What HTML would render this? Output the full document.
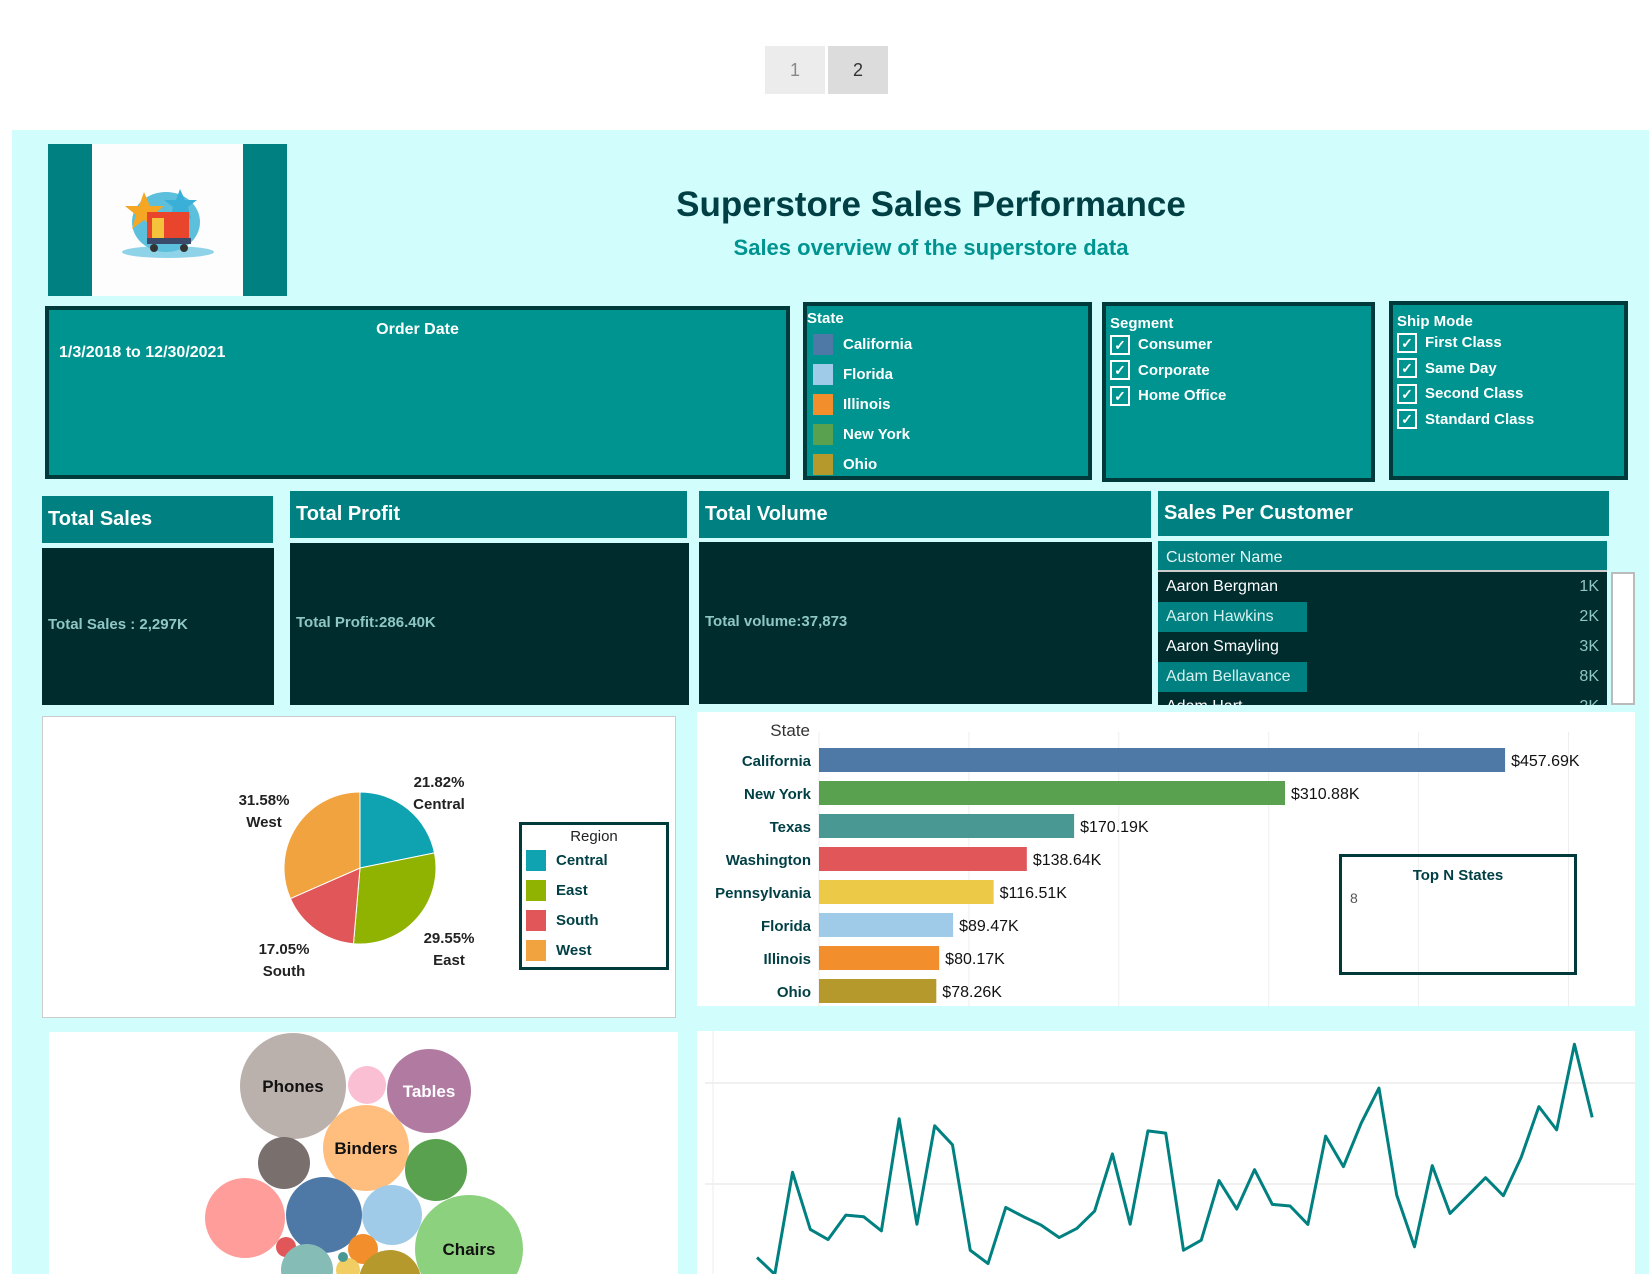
<!DOCTYPE html>
<html><head><meta charset="utf-8">
<style>
*{box-sizing:border-box;margin:0;padding:0}
body{width:1649px;height:1274px;overflow:hidden;background:#fff;position:relative;font-family:"Liberation Sans Narrow","Liberation Sans",sans-serif}
.a{position:absolute}
.pg{position:absolute;top:46px;width:60px;height:48px;background:#ececec;color:#888;font-size:18px;text-align:center;line-height:48px;font-family:"Liberation Sans",sans-serif}
.flt{position:absolute;background:#009490;border:4px solid #003a3a;color:#fff;font-weight:bold}
.hdr{position:absolute;background:#008080;color:#fff;font-weight:bold;font-size:20px;padding-left:6px;display:flex;align-items:center}
.dk{position:absolute;background:#002c2e;color:#8fc8c2;font-size:15px;font-weight:bold}
.panel{position:absolute;background:#fff}
.chk{display:inline-block;width:20px;height:20px;border:2px solid #fff;margin-right:8px;text-align:center;font-size:14px;line-height:17px;vertical-align:middle}
.li{height:25.5px;font-size:15px;display:flex;align-items:center}
.sw{display:inline-block;width:20px;height:21px;margin:0 10px 0 6px}
</style></head><body>
<div class="pg" style="left:765px">1</div>
<div class="pg" style="left:828px;background:#dcdcdc;color:#333">2</div>

<div class="a" style="left:12px;top:130px;width:1637px;height:1144px;background:#d2fdfd"></div>

<div class="a" style="left:48px;top:144px;width:239px;height:152px;background:#008080">
  <div class="a" style="left:44px;top:0;width:151px;height:152px;background:#fdfdfd">
    <svg width="151" height="152" viewBox="0 0 151 152">
      <ellipse cx="76" cy="108" rx="46" ry="6" fill="#8fd3e8"/>
      <ellipse cx="74" cy="78" rx="34" ry="30" fill="#5cc0dc"/>
      <polygon points="52,48 58,62 72,62 61,71 65,85 52,76 40,85 44,71 33,62 47,62" fill="#f5a623"/>
      <polygon points="88,45 93,56 105,56 96,63 99,75 88,68 78,75 81,63 72,56 84,56" fill="#3ab0d8"/>
      <rect x="55" y="68" width="42" height="26" fill="#e8452c"/>
      <rect x="60" y="74" width="12" height="20" fill="#f5c23c"/>
      <rect x="55" y="94" width="44" height="6" fill="#3a4a6a"/>
      <circle cx="62" cy="104" r="4" fill="#333"/><circle cx="92" cy="104" r="4" fill="#333"/>
    </svg>
  </div>
</div>
<div class="a" style="left:531px;top:185px;width:800px;text-align:center;color:#003f44;font-size:35px;font-weight:bold">Superstore Sales Performance</div>
<div class="a" style="left:531px;top:235px;width:800px;text-align:center;color:#009490;font-size:22px;font-weight:bold">Sales overview of the superstore data</div>

<div class="flt" style="left:45px;top:306px;width:745px;height:173px">
  <div class="a" style="left:0;width:737px;top:11px;text-align:center;font-size:16px">Order Date</div>
  <div class="a" style="left:10px;top:34px;font-size:16px">1/3/2018 to 12/30/2021</div>
</div>

<div class="flt" style="left:803px;top:302px;width:289px;height:178px">
  <div style="font-size:15px;margin-top:4px">State</div>
  <div class="li" style="margin-top:5px"><span class="sw" style="background:#4e79a7"></span>California</div>
  <div class="li" style="margin-top:4.5px"><span class="sw" style="background:#a0cbe8"></span>Florida</div>
  <div class="li" style="margin-top:4.5px"><span class="sw" style="background:#f28e2b"></span>Illinois</div>
  <div class="li" style="margin-top:4.5px"><span class="sw" style="background:#59a14f"></span>New York</div>
  <div class="li" style="margin-top:4.5px"><span class="sw" style="background:#b6992d"></span>Ohio</div>
</div>

<div class="flt" style="left:1102px;top:302px;width:273px;height:180px;padding:9px 0 0 4px">
  <div style="font-size:15px">Segment</div>
  <div class="li"><span class="chk">✓</span>Consumer</div>
  <div class="li"><span class="chk">✓</span>Corporate</div>
  <div class="li"><span class="chk">✓</span>Home Office</div>
</div>

<div class="flt" style="left:1389px;top:301px;width:239px;height:179px;padding:8px 0 0 4px">
  <div style="font-size:15px">Ship Mode</div>
  <div class="li"><span class="chk">✓</span>First Class</div>
  <div class="li"><span class="chk">✓</span>Same Day</div>
  <div class="li"><span class="chk">✓</span>Second Class</div>
  <div class="li"><span class="chk">✓</span>Standard Class</div>
</div>

<div class="hdr" style="left:42px;top:496px;width:231px;height:47px">Total Sales</div>
<div class="dk" style="left:42px;top:548px;width:232px;height:157px"><div class="a" style="left:6px;top:68px">Total Sales : 2,297K</div></div>
<div class="hdr" style="left:290px;top:491px;width:397px;height:47px">Total Profit</div>
<div class="dk" style="left:290px;top:543px;width:399px;height:162px"><div class="a" style="left:6px;top:71px">Total Profit:286.40K</div></div>
<div class="hdr" style="left:699px;top:491px;width:452px;height:47px">Total Volume</div>
<div class="dk" style="left:699px;top:542px;width:453px;height:162px"><div class="a" style="left:6px;top:71px">Total volume:37,873</div></div>
<div class="hdr" style="left:1158px;top:491px;width:451px;height:45px">Sales Per Customer</div>

<div class="a" style="left:1158px;top:541px;width:449px;height:164px;background:#002c2e;overflow:hidden;color:#fff;font-size:16px">
  <div style="height:31px;background:#008080;border-bottom:2px solid #ccc;padding-left:8px;line-height:34px;color:#e6f6f6">Customer Name</div>
  <div style="position:relative;height:30px"><span class="a" style="left:8px;top:6px">Aaron Bergman</span><span class="a" style="right:8px;top:6px;color:#8fc8c2">1K</span></div>
  <div style="position:relative;height:30px"><span class="a" style="left:0;top:0;width:149px;height:30px;background:#008080"></span><span class="a" style="left:8px;top:6px;color:#d6f0ef">Aaron Hawkins</span><span class="a" style="right:8px;top:6px;color:#8fc8c2">2K</span></div>
  <div style="position:relative;height:30px"><span class="a" style="left:8px;top:6px">Aaron Smayling</span><span class="a" style="right:8px;top:6px;color:#8fc8c2">3K</span></div>
  <div style="position:relative;height:30px"><span class="a" style="left:0;top:0;width:149px;height:30px;background:#008080"></span><span class="a" style="left:8px;top:6px;color:#d6f0ef">Adam Bellavance</span><span class="a" style="right:8px;top:6px;color:#8fc8c2">8K</span></div>
  <div style="position:relative;height:30px"><span class="a" style="left:8px;top:6px">Adam Hart</span><span class="a" style="right:8px;top:6px;color:#8fc8c2">2K</span></div>
</div>
<div class="a" style="left:1611px;top:572px;width:24px;height:133px;background:#fff;border:2px solid #bbb"></div>

<!-- Pie -->
<div class="panel" style="left:42px;top:716px;width:634px;height:302px;border:1px solid #ccc">
  <svg id="pie" class="a" style="left:0;top:0" width="634" height="302"></svg>
  <div class="a" style="left:476px;top:105px;width:150px;height:148px;border:3px solid #003a3a;font-size:15px;font-weight:bold;color:#003f44">
    <div style="text-align:center;margin-top:3px;font-weight:normal;color:#222">Region</div>
    <div class="li" style="height:30px"><span class="sw" style="background:#0fa3b1;margin-left:4px"></span>Central</div>
    <div class="li" style="height:30px"><span class="sw" style="background:#8fb300;margin-left:4px"></span>East</div>
    <div class="li" style="height:30px"><span class="sw" style="background:#e15759;margin-left:4px"></span>South</div>
    <div class="li" style="height:30px"><span class="sw" style="background:#f1a340;margin-left:4px"></span>West</div>
  </div>
</div>

<!-- Bar -->
<div class="panel" style="left:697px;top:712px;width:938px;height:294px">
  <svg id="bar" class="a" style="left:0;top:0" width="938" height="294"></svg>
  <div class="a" style="left:642px;top:142px;width:238px;height:121px;border:3px solid #003a3a;font-family:'Liberation Sans',sans-serif">
    <div style="text-align:center;font-weight:bold;font-size:15px;color:#003f44;margin-top:10px">Top N States</div>
    <div style="font-size:14px;color:#555;margin:6px 0 0 8px">8</div>
  </div>
</div>

<!-- Bubbles -->
<div class="panel" style="left:49px;top:1032px;width:629px;height:242px">
  <svg id="bub" class="a" style="left:0;top:0" width="629" height="242"></svg>
</div>

<!-- Line -->
<div class="panel" style="left:697px;top:1031px;width:938px;height:243px">
  <svg id="line" class="a" style="left:0;top:0" width="938" height="243"></svg>
</div>

<script>
const NS='http://www.w3.org/2000/svg';
function mk(p,t,at){const e=document.createElementNS(NS,t);for(const k in at)e.setAttribute(k,at[k]);p.appendChild(e);return e;}

// ---- Pie data ----
const regions=['Central','East','South','West'];
const regionShare=[21.82,29.55,17.05,31.58];
const regionColors=['#0fa3b1','#8fb300','#e15759','#f1a340'];
const pieLabelPos=[[396,70],[406,226],[241,237],[221,88]];
(function(){
  const s=document.getElementById('pie');const cx=317,cy=151,r=76;
  const tot=regionShare.reduce((a,b)=>a+b,0);let a0=0;
  regionShare.forEach((v,i)=>{
    const a1=a0+v/tot*2*Math.PI;
    const x0=cx+r*Math.sin(a0),y0=cy-r*Math.cos(a0),x1=cx+r*Math.sin(a1),y1=cy-r*Math.cos(a1);
    const p=mk(s,'path',{d:`M${cx},${cy}L${x0},${y0}A${r},${r} 0 ${a1-a0>Math.PI?1:0} 1 ${x1},${y1}Z`,fill:regionColors[i],stroke:'#fff','stroke-width':1});
    
    
    const [lx,ly]=pieLabelPos[i];
    const t=mk(s,'text',{x:lx,y:ly,'text-anchor':'middle','font-size':15,'font-weight':'bold',fill:'#222','font-family':'Liberation Sans Narrow, Liberation Sans, sans-serif'});
    
    
    mk(t,'tspan',{x:lx,dy:0}).textContent=v.toFixed(2)+'%';
    mk(t,'tspan',{x:lx,dy:22}).textContent=regions[i];
    a0=a1;
  });
})();

// ---- Bar data ----
const states=['California','New York','Texas','Washington','Pennsylvania','Florida','Illinois','Ohio'];
const stateSales=[457.69,310.88,170.19,138.64,116.51,89.47,80.17,78.26];
const stateColors=['#4e79a7','#59a14f','#499894','#e15759','#edc948','#a0cbe8','#f28e2b','#b6992d'];
const barTicks=[0,100,200,300,400,500];
(function(){
  const s=document.getElementById('bar');const x0=122,k=1.499,top=36,step=33.0,bh=24;
  const X=v=>x0+v*k;
  barTicks.forEach(t=>{const l=mk(s,'line',{x1:X(t),x2:X(t),y1:20,y2:294,stroke:'#eee','stroke-width':1});});
  const h=mk(s,'text',{x:113,y:24,'font-size':17,fill:'#333','text-anchor':'end','font-family':'Liberation Sans Narrow, Liberation Sans, sans-serif'});
  h.textContent='State';
  states.forEach((st,i)=>{
    const y=top+i*step;
    const r=mk(s,'rect',{x:X(0),y:y,width:X(stateSales[i])-X(0),height:bh,fill:stateColors[i]});
    
    
    const l=mk(s,'text',{x:X(0)-8,y:y+18,'text-anchor':'end','font-size':15,'font-weight':'bold',fill:'#003f44','font-family':'Liberation Sans Narrow, Liberation Sans, sans-serif'});
    l.textContent=st;
    const v=mk(s,'text',{x:X(stateSales[i])+6,y:y+18,'font-size':16,fill:'#111','font-family':'Liberation Sans Narrow, Liberation Sans, sans-serif'});
    v.textContent='$'+stateSales[i].toFixed(2)+'K';
  });
})();

// ---- Bubble data ----
const subCats=['Phones','Pink','Tables','Binders','Grey','Green','Salmon','Blue','LightBlue','Chairs','Red','Orange','Teal','Yellow','Olive','TinyTeal'];
const subCatSizes=[53,19,42,43,26,31,40,38,30,54,10,15,26,12,31,5];
const subCatColors=['#bab0ac','#fabfd2','#b07aa1','#ffbe7d','#79706e','#59a14f','#ff9d9a','#4e79a7','#a0cbe8','#8cd17d','#e15759','#f28e2b','#86bcb6','#f1ce63','#b6992d','#499894'];
const subCatLabels=['Phones','','Tables','Binders','','','','','','Chairs','','','','','',''];
const bubbleLayout=[[244,54],[318,53],[380,59],[317,116],[235,131],[387,138],[196,186],[275,183],[343,183],[420,217],[237,215],[314,217],[258,238],[299,238],[341,249],[294,225]];
(function(){
  const s=document.getElementById('bub');
  subCats.forEach((c,i)=>{
    const [x,y]=bubbleLayout[i];
    const ci=mk(s,'circle',{cx:x,cy:y,r:subCatSizes[i],fill:subCatColors[i]});
    
    
    if(subCatLabels[i]){const t=mk(s,'text',{x:x,y:y+6,'text-anchor':'middle','font-size':17,'font-weight':'bold',fill:c==='Tables'?'#fff':'#111','font-family':'Liberation Sans Narrow, Liberation Sans, sans-serif'});
      t.textContent=subCatLabels[i];}
  });
})();

// ---- Line data (monthly sales, K) ----
const months=Array.from({length:48},(_,i)=>i);
const monthlySales=[13.6,5.3,55.8,27.5,22.5,34.6,33.8,26.8,82.3,30.1,78.8,69.4,17.2,10.6,38.4,33.8,29.6,23.5,28.0,36.6,64.9,30.1,76.3,75.2,17.2,22.2,51.7,37.6,57.1,39.9,39.1,30.0,73.7,58.6,80.1,97.5,44.5,18.9,59.1,35.4,44.2,53.1,44.2,63.1,88.3,76.8,119.2,83.0];
const lineTicks=[50,100];
(function(){
  const s=document.getElementById('line');
  const X=i=>60+i*17.77, Y=v=>153-(v-50)*2.02;
  mk(s,'line',{x1:16,x2:16,y1:0,y2:243,stroke:'#eee'});
  lineTicks.forEach(t=>{const l=mk(s,'line',{x1:8,x2:938,y1:Y(t),y2:Y(t),stroke:'#ececec','stroke-width':1.5});});
  const p=mk(s,'polyline',{points:monthlySales.map((v,i)=>X(months[i])+','+Y(v)).join(' '),fill:'none',stroke:'#008080','stroke-width':3,'stroke-linejoin':'round'});
  
  
})();
</script>
</body></html>
